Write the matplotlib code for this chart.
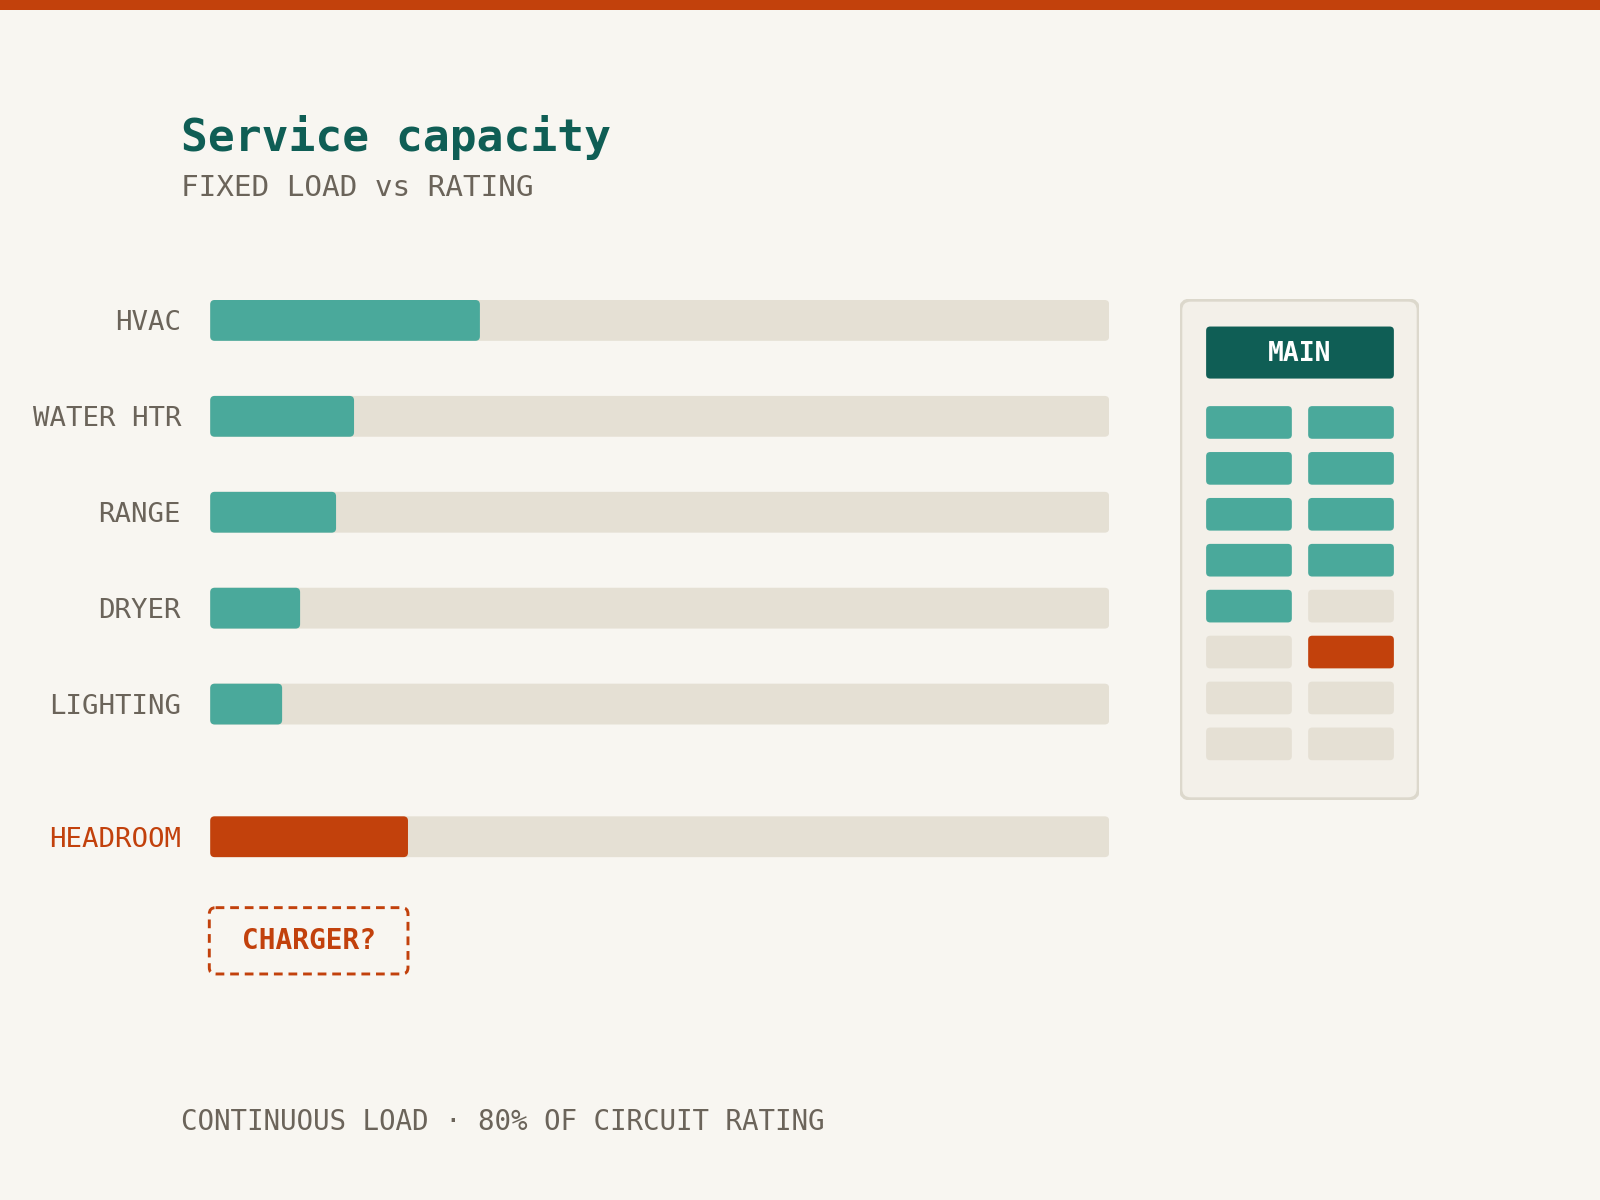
import matplotlib.pyplot as plt
from matplotlib.patches import FancyBboxPatch, Rectangle

# loads as percent of service rating
loads = ["HVAC", "WATER HTR", "RANGE", "DRYER", "LIGHTING"]
load_pct = [30, 16, 14, 10, 8]
headroom_label = "HEADROOM"
headroom_pct = 22
rating_pct = 100

# breaker slots in the panel, read left to right, top to bottom
slots = ["on", "on",
         "on", "on",
         "on", "on",
         "on", "on",
         "on", "off",
         "off", "new",
         "off", "off",
         "off", "off"]

title = "Service capacity"
subtitle = "FIXED LOAD vs RATING"
footer = "CONTINUOUS LOAD \u00b7 80% OF CIRCUIT RATING"
note = "CHARGER?"

BG = "#f8f6f1"
TEAL_DARK = "#0f5e55"
TEAL = "#4aa99b"
TRACK = "#e5e0d4"
ORANGE = "#c2410c"
GRAY = "#6b645a"
MONO = ["DejaVu Sans Mono"]

W, H = 1568, 1176   # layout units (reference pixels)


def fx(px):
    return px / W


def fy(py):
    return 1 - py / H


fig = plt.figure(figsize=(16, 12), dpi=100, facecolor=BG)

# top accent strip
fig.patches.append(Rectangle((0, fy(10)), 1, 10 / H, transform=fig.transFigure,
                             facecolor=ORANGE, edgecolor="none"))

fig.text(fx(177), fy(148), title, family=MONO, weight="bold", fontsize=32.1,
         color=TEAL_DARK, va="baseline")
fig.text(fx(177), fy(192), subtitle, family=MONO, fontsize=21.2, color=GRAY,
         va="baseline")
fig.text(fx(177), fy(1107), footer, family=MONO, fontsize=19.8, color=GRAY,
         va="baseline")

# ---- bars ----
pitch = 94
gap_rows = 1.383
ys = list(range(len(loads)))
y_head = ys[-1] + gap_rows
top, bot = 314 - pitch / 2, 820 + pitch / 2
ax = fig.add_axes([fx(206), fy(bot), fx(1087) - fx(206), (bot - top) / H])
ax.set_facecolor("none")
ax.set_xlim(0, rating_pct)
ax.set_ylim(y_head + 0.5, -0.5)
for s in ax.spines.values():
    s.set_visible(False)

bh = 40 / pitch
aspect = (881 / rating_pct) / pitch


def rounded(bars, color):
    for r in bars:
        r.set_visible(False)
        ax.add_patch(FancyBboxPatch((r.get_x(), r.get_y()), r.get_width(), r.get_height(),
                                    boxstyle="round,pad=0,rounding_size=0.5",
                                    mutation_aspect=aspect, facecolor=color,
                                    edgecolor="none"))


allys = ys + [y_head]
rounded(ax.barh(allys, [rating_pct] * len(allys), height=bh), TRACK)
rounded(ax.barh(ys, load_pct, height=bh), TEAL)
rounded(ax.barh([y_head], [headroom_pct], height=bh), ORANGE)

ax.set_xticks([])
ax.set_yticks(allys, loads + [headroom_label])
ax.tick_params(axis="y", length=0, pad=21, labelsize=19.7, labelcolor=GRAY)
for lab in ax.get_yticklabels():
    lab.set_family(MONO)
ax.get_yticklabels()[-1].set_color(ORANGE)

# dashed "charger?" box under the headroom bar
cy = y_head + (922 - 820) / pitch
chh = 65 / pitch
ax.add_patch(FancyBboxPatch((-0.1, cy - chh / 2), headroom_pct + 0.1, chh,
                            boxstyle="round,pad=0,rounding_size=0.7",
                            mutation_aspect=aspect, facecolor="none",
                            edgecolor=ORANGE, lw=2.1, linestyle=(0, (3, 2)),
                            clip_on=False))
ax.text(headroom_pct / 2, cy, note, family=MONO, weight="bold", fontsize=20,
        color=ORANGE, ha="center", va="center", clip_on=False)

# ---- panel ----
pw, ph = 235, 491
pax = fig.add_axes([fx(1156), fy(293 + ph), pw / W, ph / H])
pax.set_xlim(0, pw)
pax.set_ylim(ph, 0)
pax.axis("off")
pax.add_patch(FancyBboxPatch((1, 1), pw - 2, ph - 2,
                             boxstyle="round,pad=0,rounding_size=10",
                             facecolor="#f3f0e9", edgecolor="#dcd8cc", lw=2.4))
pax.add_patch(FancyBboxPatch((26, 27), 184, 51,
                             boxstyle="round,pad=0,rounding_size=4",
                             facecolor=TEAL_DARK, edgecolor="none"))
pax.text(118, 54, "MAIN", family=MONO, weight="bold", fontsize=19,
         color="white", ha="center", va="center")

slot_color = {"on": TEAL, "off": TRACK, "new": ORANGE}
for i, st in enumerate(slots):
    col, row = i % 2, i // 2
    pax.add_patch(FancyBboxPatch((26 + col * 100, 105 + row * 45), 84, 32,
                                 boxstyle="round,pad=0,rounding_size=4",
                                 facecolor=slot_color[st], edgecolor="none"))

fig.savefig("out.png", dpi=100, facecolor=BG)
